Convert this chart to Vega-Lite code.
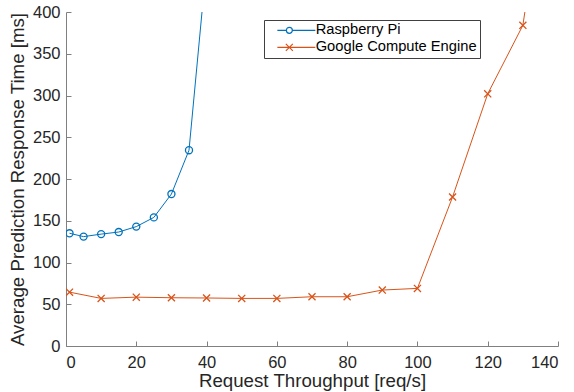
{
  "$schema": "https://vega.github.io/schema/vega-lite/v6.json",
  "width": 492,
  "height": 334,
  "autosize": "none",
  "padding": {"left": 66, "top": 12, "right": 16, "bottom": 46},
  "background": "white",
  "data": {
    "values": [
      {"series": "Raspberry Pi", "x": 1, "y": 135},
      {"series": "Raspberry Pi", "x": 5, "y": 131},
      {"series": "Raspberry Pi", "x": 10, "y": 134},
      {"series": "Raspberry Pi", "x": 15, "y": 136.5},
      {"series": "Raspberry Pi", "x": 20, "y": 143},
      {"series": "Raspberry Pi", "x": 25, "y": 154},
      {"series": "Raspberry Pi", "x": 30, "y": 182},
      {"series": "Raspberry Pi", "x": 35, "y": 234.5},
      {"series": "Raspberry Pi", "x": 40, "y": 458},
      {"series": "Google Compute Engine", "x": 1, "y": 64.5},
      {"series": "Google Compute Engine", "x": 10, "y": 57},
      {"series": "Google Compute Engine", "x": 20, "y": 58.5},
      {"series": "Google Compute Engine", "x": 30, "y": 57.8},
      {"series": "Google Compute Engine", "x": 40, "y": 57.5},
      {"series": "Google Compute Engine", "x": 50, "y": 57},
      {"series": "Google Compute Engine", "x": 60, "y": 57},
      {"series": "Google Compute Engine", "x": 70, "y": 59},
      {"series": "Google Compute Engine", "x": 80, "y": 59},
      {"series": "Google Compute Engine", "x": 90, "y": 67},
      {"series": "Google Compute Engine", "x": 100, "y": 69},
      {"series": "Google Compute Engine", "x": 110, "y": 178.5},
      {"series": "Google Compute Engine", "x": 120, "y": 302},
      {"series": "Google Compute Engine", "x": 130, "y": 384},
      {"series": "Google Compute Engine", "x": 140, "y": 660}
    ]
  },
  "encoding": {
    "x": {
      "field": "x",
      "type": "quantitative",
      "scale": {"domain": [0, 140], "nice": false, "zero": false},
      "axis": {"title": "Request Throughput [req/s]", "values": [0, 20, 40, 60, 80, 100, 120, 140], "labelPadding": 13, "titlePadding": 1}
    },
    "y": {
      "field": "y",
      "type": "quantitative",
      "scale": {"domain": [0, 400], "nice": false},
      "axis": {"title": "Average Prediction Response Time [ms]", "values": [0, 50, 100, 150, 200, 250, 300, 350, 400], "labelPadding": 11, "titlePadding": 5}
    },
    "color": {
      "field": "series",
      "type": "nominal",
      "scale": {"domain": ["Raspberry Pi", "Google Compute Engine"], "range": ["#0072BD", "#D95319"]},
      "legend": {
        "orient": "none",
        "legendX": 198,
        "legendY": 8,
        "title": null,
        "strokeColor": "#404040",
        "fillColor": "white",
        "padding": 3,
        "labelFont": "Liberation Sans",
        "labelFontSize": 14.7,
        "labelColor": "#000000",
        "labelOffset": 34,
        "labelLimit": 0,
        "symbolSize": 100,
        "rowPadding": 1,
        "encode": {
          "symbols": {
            "update": {
              "shape": {"signal": "datum.value === 'Raspberry Pi' ? 'M0.6,0H2.4M3.6,0H8.2M3.6,0A0.6,0.6 0 1 1 2.4,0A0.6,0.6 0 1 1 3.6,0' : 'M0.6,0H8.2M2.3,-0.7L3.7,0.7M2.3,0.7L3.7,-0.7'"},
              "fill": {"value": "transparent"},
              "strokeWidth": {"value": 1.2},
              "opacity": {"value": 1}
            }
          }
        }
      }
    }
  },
  "layer": [
    {"mark": {"type": "line", "clip": true, "strokeWidth": 1}},
    {
      "transform": [{"filter": "datum.series === 'Raspberry Pi'"}],
      "mark": {"type": "point", "clip": true, "filled": false, "strokeWidth": 1.3, "size": 50, "opacity": 1, "shape": "circle"}
    },
    {
      "transform": [{"filter": "datum.series === 'Google Compute Engine'"}],
      "mark": {"type": "point", "clip": true, "filled": false, "strokeWidth": 1.3, "size": 50, "opacity": 1, "shape": "M-1,-1L1,1M-1,1L1,-1"}
    }
  ],
  "config": {
    "view": {"stroke": null},
    "font": "Liberation Sans",
    "axis": {
      "grid": false,
      "domainColor": "#808080",
      "tickColor": "#808080",
      "tickSize": -5,
      "labelColor": "#262626",
      "labelFont": "Liberation Sans",
      "labelFontSize": 16.5,
      "titleFont": "Liberation Sans",
      "titleFontSize": 18.7,
      "titleFontWeight": "normal",
      "titleColor": "#262626"
    }
  }
}
